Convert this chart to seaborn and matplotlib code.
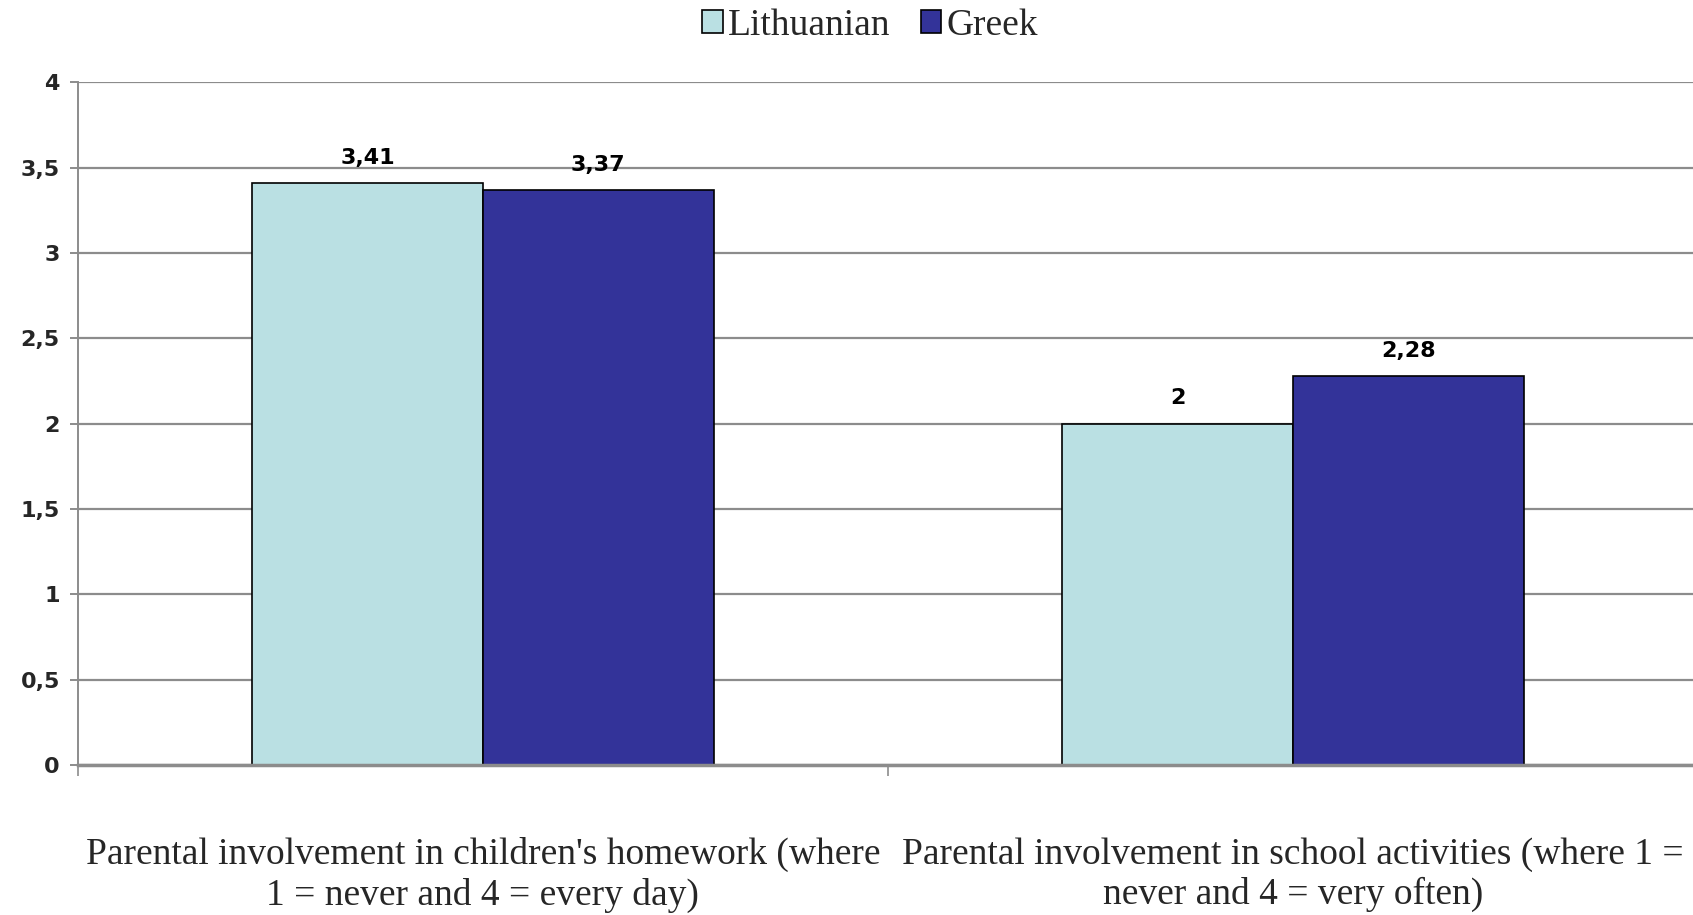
import pandas as pd
import matplotlib.pyplot as plt
import seaborn as sns

# Chart data
categories = [
    "Parental involvement in children's homework (where\n1 = never and 4 = every day)",
    "Parental involvement in school activities (where 1 =\nnever and 4 = very often)",
]
groups = ["Lithuanian", "Greek"]
lithuanian = [3.41, 2.00]
greek = [3.37, 2.28]
yticks = [0, 0.5, 1, 1.5, 2, 2.5, 3, 3.5, 4]

colors = {"Lithuanian": "#bae0e3", "Greek": "#333399"}
grid_gray = "#8c8c8c"


def comma(v):
    return f"{v:g}".replace(".", ",")


df = pd.DataFrame({
    "category": categories * 2,
    "group": [groups[0]] * len(lithuanian) + [groups[1]] * len(greek),
    "value": lithuanian + greek,
})

sns.set_theme(style="white")
plt.rcParams["font.family"] = ["DejaVu Sans"]

fig = plt.figure(figsize=(16.93, 9.15), dpi=100)
ax = fig.add_axes([0.046, 0.164, 0.957, 0.746])

sns.barplot(data=df, x="category", y="value", hue="group", hue_order=groups,
            palette=colors, width=0.57, edgecolor="black", linewidth=1.2,
            saturation=1, ax=ax)

# value labels above the bars
for container, vals in zip(ax.containers, [lithuanian, greek]):
    ax.bar_label(container, labels=[comma(v) for v in vals], padding=11,
                 fontsize=16, fontweight="bold", color="black")

# legend at top centre
handles, labels = ax.get_legend_handles_labels()
ax.get_legend().remove()
fig.legend(handles, labels, loc="center", bbox_to_anchor=(0.514, 0.972), ncol=2,
           frameon=False, prop={"family": "Liberation Serif", "size": 27},
           handlelength=0.55, handleheight=0.55, handletextpad=0.15,
           columnspacing=0.8)

# axes styling
ax.set_ylim(0, 4)
ax.set_xlim(-0.5, 1.5)
ax.set_yticks(yticks)
ax.set_yticklabels([comma(t) for t in yticks], fontsize=16, fontweight="bold")
ax.yaxis.grid(True, color=grid_gray, linewidth=1.6)
ax.set_axisbelow(True)
ax.set_xlabel("")
ax.set_ylabel("")

ax.set_xticks([-0.5, 0.5, 1.5], minor=True)
ax.tick_params(axis="x", which="major", length=0, pad=52)
ax.tick_params(axis="x", which="minor", length=8, width=1.2, color=grid_gray,
               direction="out", bottom=True)
ax.tick_params(axis="y", length=6, width=1.4, color=grid_gray, pad=7,
               direction="out", left=True)
for lbl in ax.get_xticklabels():
    lbl.set_family("Liberation Serif")
    lbl.set_fontsize(27)
    lbl.set_linespacing(1.2)

sns.despine(ax=ax, top=True, right=True)
ax.spines["left"].set_color(grid_gray)
ax.spines["left"].set_linewidth(1.4)
ax.spines["bottom"].set_color(grid_gray)
ax.spines["bottom"].set_linewidth(2.5)

plt.savefig("out.png", dpi=100)
plt.close()
